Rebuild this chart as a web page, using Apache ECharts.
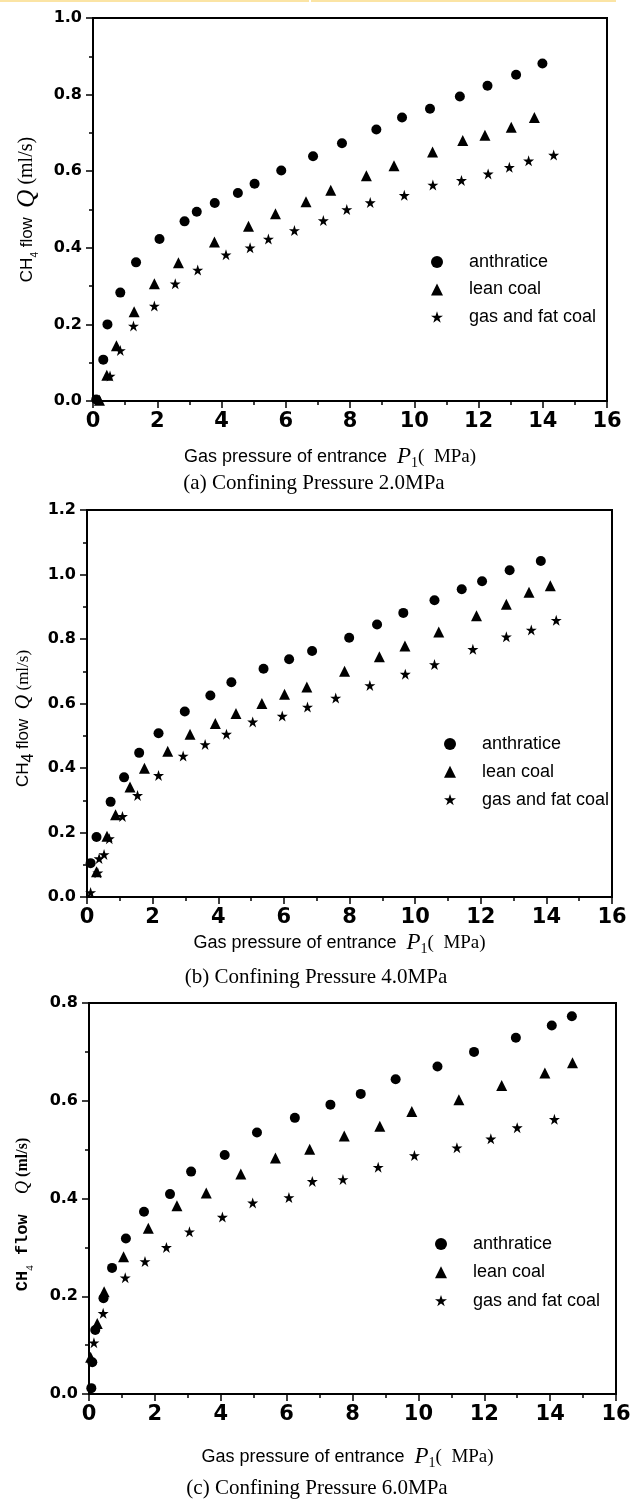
<!DOCTYPE html>
<html><head><meta charset="utf-8">
<script src="https://cdn.jsdelivr.net/npm/echarts@6/dist/echarts.min.js"></script>
<style>html,body{margin:0;padding:0;background:#fff}#c{width:637px;height:1499px}</style>
</head><body><div id="c"></div>
<script>
// ---------- data ----------
const seriesNames = ['anthratice', 'lean coal', 'gas and fat coal'];
const xMin = 0, xMax = 16, xInterval = 2;
const yMaxA = 1.0, yMaxB = 1.2, yMaxC = 0.8, yInterval = 0.2;
const captions = ['(a) Confining Pressure 2.0MPa', '(b) Confining Pressure 4.0MPa', '(c) Confining Pressure 6.0MPa'];

// (a) confining pressure 2.0 MPa
const aAnthP = [0.10,0.32,0.45,0.85,1.34,2.07,2.85,3.23,3.79,4.51,5.03,5.86,6.85,7.75,8.82,9.62,10.49,11.42,12.28,13.17,13.99];
const aAnthQ = [0.004,0.108,0.200,0.283,0.362,0.423,0.469,0.494,0.517,0.543,0.567,0.602,0.639,0.673,0.709,0.740,0.763,0.795,0.823,0.852,0.881];
const aLeanP = [0.20,0.43,0.73,1.28,1.91,2.66,3.78,4.84,5.68,6.63,7.40,8.51,9.37,10.57,11.51,12.20,13.02,13.74];
const aLeanQ = [0.002,0.067,0.144,0.233,0.306,0.361,0.415,0.456,0.489,0.520,0.550,0.588,0.614,0.650,0.680,0.694,0.715,0.740];
const aGasP  = [0.53,0.85,1.26,1.91,2.56,3.26,4.14,4.89,5.46,6.27,7.17,7.90,8.63,9.69,10.58,11.47,12.30,12.96,13.56,14.34];
const aGasQ  = [0.065,0.132,0.196,0.248,0.306,0.342,0.382,0.400,0.423,0.445,0.471,0.500,0.518,0.537,0.564,0.576,0.593,0.610,0.627,0.642];

// (b) confining pressure 4.0 MPa
const bAnthP = [0.11,0.29,0.72,1.13,1.59,2.18,2.98,3.76,4.40,5.38,6.16,6.86,7.99,8.84,9.64,10.59,11.42,12.04,12.88,13.83];
const bAnthQ = [0.105,0.186,0.295,0.371,0.447,0.508,0.575,0.625,0.666,0.708,0.737,0.763,0.804,0.845,0.881,0.920,0.954,0.979,1.013,1.042];
const bLeanP = [0.29,0.61,0.87,1.31,1.75,2.46,3.14,3.91,4.54,5.33,6.02,6.70,7.85,8.91,9.69,10.72,11.87,12.78,13.47,14.12];
const bLeanQ = [0.078,0.188,0.255,0.341,0.399,0.452,0.505,0.538,0.569,0.600,0.629,0.651,0.700,0.745,0.778,0.822,0.872,0.908,0.945,0.965];
const bGasP  = [0.11,0.33,0.37,0.52,0.68,1.08,1.54,2.18,2.93,3.60,4.25,5.05,5.95,6.72,7.58,8.62,9.70,10.59,11.76,12.78,13.54,14.30];
const bGasQ  = [0.014,0.075,0.119,0.132,0.181,0.250,0.315,0.377,0.437,0.473,0.505,0.543,0.561,0.589,0.617,0.656,0.691,0.721,0.768,0.807,0.828,0.858];

// (c) confining pressure 6.0 MPa
const cAnthP = [0.07,0.10,0.19,0.44,0.70,1.12,1.67,2.46,3.10,4.12,5.10,6.25,7.33,8.25,9.31,10.58,11.69,12.96,14.05,14.66];
const cAnthQ = [0.012,0.065,0.131,0.196,0.258,0.318,0.373,0.409,0.455,0.489,0.535,0.565,0.592,0.614,0.644,0.670,0.700,0.729,0.754,0.773];
const cLeanP = [0.05,0.25,0.46,1.05,1.80,2.67,3.56,4.61,5.66,6.70,7.75,8.83,9.80,11.23,12.53,13.84,14.68];
const cLeanQ = [0.075,0.144,0.209,0.281,0.339,0.385,0.411,0.450,0.483,0.501,0.528,0.548,0.578,0.602,0.631,0.657,0.678];
const cGasP  = [0.15,0.43,1.10,1.70,2.35,3.05,4.05,4.97,6.07,6.78,7.71,8.78,9.88,11.17,12.20,13.00,14.13];
const cGasQ  = [0.105,0.165,0.238,0.271,0.300,0.332,0.362,0.391,0.402,0.435,0.439,0.464,0.488,0.504,0.522,0.545,0.562];

// ---------- style ----------
const STAR = 'path://M50,2 L61.8,37.6 L99,37.6 L68.9,59.6 L80.4,95.1 L50,73.1 L19.6,95.1 L31.1,59.6 L1,37.6 L38.2,37.6 Z';
const symbols = ['circle', 'triangle', STAR];
const symSizes = [10, 11, 11];

const grids = [
  {left: 93, top: 18, width: 514, height: 383},
  {left: 87, top: 510, width: 525, height: 387},
  {left: 89, top: 1003, width: 527, height: 391}
];
const yMaxes = [yMaxA, yMaxB, yMaxC];

const xNameRich = {
  s: {fontFamily: 'Liberation Sans', fontSize: 18, color: '#000', lineHeight: 26},
  p: {fontFamily: 'Liberation Serif', fontStyle: 'italic', fontSize: 23, color: '#000', lineHeight: 26},
  sub: {fontFamily: 'Liberation Serif', fontSize: 14, color: '#000', lineHeight: 14, verticalAlign: 'bottom'},
  u: {fontFamily: 'Liberation Serif', fontSize: 19, color: '#000', lineHeight: 26}
};
const xName = '{s|Gas pressure of entrance  }{p|P}{sub|1}{u|(  MPa)}';
const xNameGap = [43, 33, 50];
const xNamePad = [40, 20, 10];

const yNames = [
  '{s|CH}{sub|4}{s| flow  }{q|Q}{u| (ml/s)}',
  '{s|CH}{sub|4}{s| flow  }{q|Q}{u| (ml/s)}',
  '{m|CH}{sub|4}{m| flow  }{q|Q}{u| (ml/s)}'
];
const yRich = [
  {
    s: {fontFamily: 'Liberation Sans', fontSize: 17, color: '#000', lineHeight: 26},
    sub: {fontFamily: 'Liberation Sans', fontSize: 10, color: '#000', lineHeight: 10, verticalAlign: 'bottom'},
    q: {fontFamily: 'Liberation Serif', fontStyle: 'italic', fontSize: 25, color: '#000', lineHeight: 26},
    u: {fontFamily: 'Liberation Serif', fontSize: 20, color: '#000', lineHeight: 26}
  },
  {
    s: {fontFamily: 'Liberation Sans', fontSize: 17, color: '#000', lineHeight: 26},
    sub: {fontFamily: 'Liberation Sans', fontSize: 16, color: '#000', lineHeight: 16, verticalAlign: 'bottom'},
    q: {fontFamily: 'Liberation Serif', fontStyle: 'italic', fontSize: 20, color: '#000', lineHeight: 26},
    u: {fontFamily: 'Liberation Serif', fontSize: 17, color: '#000', lineHeight: 26}
  },
  {
    m: {fontFamily: 'Liberation Mono', fontWeight: 'bold', fontSize: 17, color: '#000', lineHeight: 26},
    sub: {fontFamily: 'Liberation Serif', fontSize: 11, color: '#000', lineHeight: 11, verticalAlign: 'bottom'},
    q: {fontFamily: 'Liberation Serif', fontStyle: 'italic', fontSize: 18, color: '#000', lineHeight: 26},
    u: {fontFamily: 'Liberation Serif', fontWeight: 'bold', fontSize: 16, color: '#000', lineHeight: 26}
  }
];
const yNameGap = [53, 50, 53];
const yNamePad = [0, 30, 32];

const legendPos = [
  {left: 426, top: 248, itemGap: 9.5},
  {left: 439, top: 730, itemGap: 9.8},
  {left: 430, top: 1230, itemGap: 10.3}
];
const captionPos = [[314, 483], [316, 977], [317, 1488]];

// ---------- build ----------
const panels = [
  [[aAnthP, aAnthQ], [aLeanP, aLeanQ], [aGasP, aGasQ]],
  [[bAnthP, bAnthQ], [bLeanP, bLeanQ], [bGasP, bGasQ]],
  [[cAnthP, cAnthQ], [cLeanP, cLeanQ], [cGasP, cGasQ]]
];

const series = [];
panels.forEach((panel, gi) => {
  panel.forEach(([P, Q], si) => {
    series.push({
      type: 'scatter', name: seriesNames[si], xAxisIndex: gi, yAxisIndex: gi,
      data: P.map((p, i) => [p, Q[i]]),
      symbol: symbols[si], symbolSize: symSizes[si],
      itemStyle: {color: '#000', opacity: 1}, silent: true, clip: false
    });
  });
});

const axisLineStyle = {color: '#000', width: 2};
const tickStyle = {color: '#000', width: 1.5};

const option = {
  animation: false,
  backgroundColor: '#fff',
  grid: grids.map(g => Object.assign({show: true, borderColor: '#000', borderWidth: 2, backgroundColor: 'transparent'}, g)),
  xAxis: grids.map((g, gi) => ({
    type: 'value', gridIndex: gi, min: xMin, max: xMax, interval: xInterval,
    axisLine: {show: true, onZero: false, lineStyle: axisLineStyle},
    axisTick: {show: true, length: 7, lineStyle: tickStyle},
    minorTick: {show: true, splitNumber: 2, length: 4, lineStyle: tickStyle},
    splitLine: {show: false},
    axisLabel: {margin: 10, fontFamily: 'DejaVu Sans', fontWeight: 'bold', fontSize: 21, color: '#000'},
    name: xName, nameLocation: 'middle', nameGap: xNameGap[gi],
    nameTextStyle: {rich: xNameRich, padding: [0, xNamePad[gi], 0, 0]}
  })),
  yAxis: grids.map((g, gi) => ({
    type: 'value', gridIndex: gi, min: 0, max: yMaxes[gi], interval: yInterval,
    axisLine: {show: true, onZero: false, lineStyle: axisLineStyle},
    axisTick: {show: true, length: 7, lineStyle: tickStyle},
    minorTick: {show: true, splitNumber: 2, length: 4, lineStyle: tickStyle},
    splitLine: {show: false},
    axisLabel: {margin: 11, fontFamily: 'DejaVu Sans', fontWeight: 'bold', fontSize: 16, color: '#000',
      formatter: v => v.toFixed(1)},
    name: yNames[gi], nameLocation: 'middle', nameRotate: 90, nameGap: yNameGap[gi],
    nameTextStyle: {rich: yRich[gi], padding: [0, yNamePad[gi], 0, 0]}
  })),
  legend: legendPos.map(lp => ({
    orient: 'vertical', left: lp.left, top: lp.top, itemGap: lp.itemGap,
    itemWidth: 12, itemHeight: 12, selectedMode: false, data: seriesNames,
    textStyle: {fontFamily: 'Liberation Sans', fontSize: 18, color: '#000', lineHeight: 18, padding: [0, 0, 0, 21]}
  })),
  graphic: [
    {type: 'rect', shape: {x: 0, y: 0, width: 309, height: 2}, style: {fill: '#fbe4a4'}},
    {type: 'rect', shape: {x: 311, y: 0, width: 305, height: 2}, style: {fill: '#fbe4a4'}}
  ].concat(captions.map((t, i) => ({
    type: 'text', x: captionPos[i][0], y: captionPos[i][1],
    style: {text: t, fontFamily: 'Liberation Serif', fontSize: 21, fill: '#000', align: 'center', verticalAlign: 'middle'}
  }))),
  series: series
};

const chart = echarts.init(document.getElementById('c'), null, {renderer: 'canvas'});
chart.setOption(option);
</script></body></html>
